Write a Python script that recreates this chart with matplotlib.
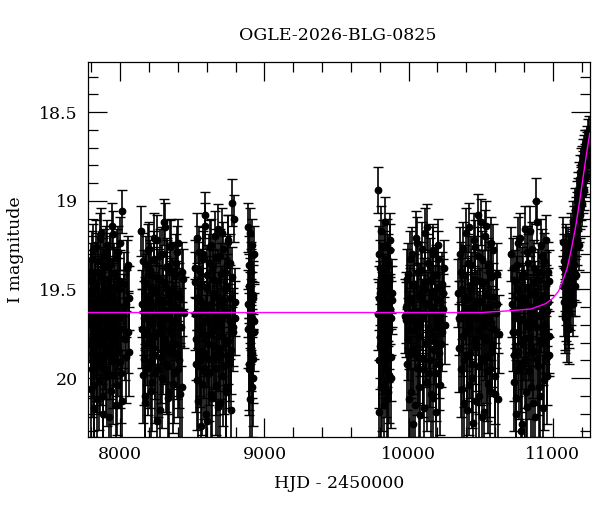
import numpy as np
import matplotlib
matplotlib.use('Agg')
import matplotlib.pyplot as plt
from matplotlib.ticker import MultipleLocator, FormatStrFormatter

### DATA
# OGLE photometry, one block per observing season (HJD - 2450000, I mag, error)

s1_t = [7791, 7796, 7800, 7803, 7808, 7812, 7817, 7821, 7825, 7830, 7834, 7839, 7843, 7848, 7852, 7857, 7861, 7866,
        7870, 7875, 7879, 7884, 7888, 7893, 7897, 7902, 7906, 7911, 7915, 7920, 7925, 7929, 7934, 7938, 7943, 7948,
        7952, 7957, 7962, 7966, 7971, 7976, 7981, 7986, 7992, 7998, 8004, 8011, 8019, 8028, 8037, 8046, 8055, 8060,
        7789, 7794, 7798, 7802, 7806, 7810, 7815, 7819, 7823, 7828, 7832, 7837, 7841, 7846, 7850, 7855, 7859, 7864,
        7868, 7873, 7877, 7882, 7886, 7891, 7895, 7900, 7904, 7909, 7913, 7918, 7922, 7927, 7931, 7936, 7940, 7945,
        7950, 7954, 7959, 7964, 7969, 7974, 7979, 7984, 7990, 7995, 8001, 8008, 8015, 8024, 8033, 8042, 8050, 8057]
s1_m = [19.52, 19.81, 19.40, 19.95, 19.66, 19.28, 20.04, 19.71, 19.47, 19.88, 19.59, 20.12, 19.34, 19.75, 19.62, 19.21, 19.93, 19.55,
        19.79, 19.43, 20.20, 19.68, 19.31, 19.86, 19.57, 19.74, 19.25, 19.99, 19.64, 19.48, 19.83, 19.36, 20.07, 19.70, 19.53, 19.19,
        19.90, 19.61, 19.77, 19.42, 20.15, 19.58, 19.29, 19.84, 19.66, 19.45, 19.97, 19.06, 19.72, 19.60, 19.88, 19.38, 19.74, 19.55,
        19.70, 19.45, 20.06, 19.58, 19.33, 19.86, 19.62, 20.17, 19.49, 19.77, 19.26, 19.92, 19.65, 19.40, 20.01, 19.56, 19.73, 19.18,
        19.89, 19.60, 19.37, 20.10, 19.67, 19.51, 19.82, 19.29, 19.95, 19.63, 19.44, 20.22, 19.75, 19.34, 19.87, 19.55, 19.69, 19.14,
        19.98, 19.59, 19.41, 19.80, 19.66, 20.04, 19.32, 19.73, 19.50, 19.91, 19.24, 19.64, 20.13, 19.47, 19.78, 19.58, 19.36, 19.85]
s1_e = [0.18, 0.24, 0.16, 0.27, 0.20, 0.15, 0.29, 0.22, 0.17, 0.25, 0.19, 0.30, 0.16, 0.23, 0.20, 0.14, 0.27, 0.18,
        0.24, 0.17, 0.31, 0.21, 0.15, 0.26, 0.19, 0.22, 0.14, 0.28, 0.20, 0.17, 0.25, 0.16, 0.29, 0.22, 0.18, 0.13,
        0.27, 0.20, 0.23, 0.16, 0.30, 0.19, 0.15, 0.26, 0.21, 0.17, 0.28, 0.12, 0.22, 0.19, 0.26, 0.16, 0.23, 0.18,
        0.21, 0.17, 0.28, 0.19, 0.16, 0.25, 0.20, 0.30, 0.18, 0.23, 0.15, 0.27, 0.21, 0.17, 0.28, 0.19, 0.22, 0.14,
        0.26, 0.20, 0.16, 0.29, 0.21, 0.18, 0.24, 0.15, 0.27, 0.20, 0.17, 0.31, 0.22, 0.16, 0.25, 0.19, 0.21, 0.13,
        0.28, 0.20, 0.17, 0.24, 0.21, 0.28, 0.16, 0.22, 0.18, 0.26, 0.15, 0.20, 0.29, 0.18, 0.23, 0.19, 0.16, 0.25]

s2_t = [8146, 8152, 8158, 8163, 8169, 8174, 8180, 8186, 8191, 8197, 8203, 8208, 8214, 8220, 8225, 8231, 8237,
        8242, 8248, 8254, 8259, 8265, 8271, 8276, 8282, 8288, 8293, 8299, 8305, 8310, 8316, 8322, 8327, 8333,
        8339, 8344, 8350, 8356, 8361, 8367, 8373, 8378, 8384, 8390, 8396, 8402, 8409, 8417, 8426, 8437,
        8149, 8155, 8161, 8166, 8172, 8177, 8183, 8189, 8194, 8200, 8206, 8211, 8217, 8223, 8228, 8234, 8240,
        8245, 8251, 8257, 8262, 8268, 8274, 8279, 8285, 8291, 8296, 8302, 8308, 8313, 8319, 8325, 8330, 8336,
        8342, 8347, 8353, 8359, 8364, 8370, 8376, 8381, 8387, 8393, 8399, 8405, 8413, 8421, 8431, 8441]
s2_m = [19.17, 19.72, 19.98, 19.45, 19.63, 20.10, 19.36, 19.80, 19.55, 19.27, 19.91, 19.68, 19.41, 20.02, 19.59, 19.76, 19.33,
        19.87, 19.50, 19.22, 19.95, 19.65, 19.44, 20.18, 19.70, 19.30, 19.84, 19.57, 19.12, 19.78, 19.49, 19.93, 19.38, 19.66,
        20.08, 19.53, 19.25, 19.82, 19.61, 19.40, 19.97, 19.69, 19.35, 19.86, 19.52, 19.24, 19.90, 19.62, 20.05, 19.44,
        19.58, 19.34, 19.89, 19.66, 20.14, 19.47, 19.75, 19.28, 19.94, 19.61, 19.39, 20.07, 19.70, 19.52, 19.83, 19.21, 19.97,
        19.64, 19.43, 20.24, 19.74, 19.56, 19.31, 19.88, 19.68, 20.00, 19.46, 19.79, 19.15, 19.62, 19.92, 19.37, 20.11, 19.57,
        19.73, 19.26, 19.85, 19.50, 20.03, 19.67, 19.42, 19.81, 19.60, 19.29, 19.95, 19.54, 20.09, 19.71, 19.40, 19.63]
s2_e = [0.14, 0.22, 0.27, 0.17, 0.20, 0.29, 0.16, 0.24, 0.18, 0.15, 0.26, 0.21, 0.17, 0.28, 0.19, 0.23, 0.16,
        0.25, 0.18, 0.14, 0.27, 0.20, 0.17, 0.31, 0.22, 0.15, 0.25, 0.19, 0.13, 0.24, 0.18, 0.27, 0.16, 0.21,
        0.29, 0.19, 0.15, 0.24, 0.20, 0.17, 0.28, 0.21, 0.16, 0.26, 0.18, 0.14, 0.27, 0.20, 0.29, 0.17,
        0.19, 0.16, 0.26, 0.21, 0.30, 0.17, 0.23, 0.15, 0.27, 0.20, 0.17, 0.29, 0.22, 0.18, 0.25, 0.14, 0.28,
        0.20, 0.17, 0.32, 0.22, 0.19, 0.15, 0.26, 0.21, 0.28, 0.17, 0.24, 0.14, 0.20, 0.27, 0.16, 0.30, 0.19,
        0.22, 0.15, 0.25, 0.18, 0.28, 0.21, 0.17, 0.24, 0.20, 0.15, 0.27, 0.19, 0.29, 0.22, 0.17, 0.20]

s3_t = [8516, 8521, 8527, 8532, 8538, 8543, 8549, 8554, 8560, 8565, 8571, 8576, 8582, 8587, 8593, 8598, 8604,
        8609, 8615, 8620, 8626, 8631, 8637, 8642, 8648, 8653, 8659, 8664, 8670, 8675, 8681, 8686, 8692, 8697,
        8703, 8708, 8714, 8719, 8725, 8730, 8736, 8741, 8747, 8752, 8758, 8763, 8769, 8776, 8784, 8795,
        8518, 8524, 8529, 8535, 8540, 8546, 8551, 8557, 8562, 8568, 8573, 8579, 8584, 8590, 8595, 8601, 8606,
        8612, 8617, 8623, 8628, 8634, 8639, 8645, 8650, 8656, 8661, 8667, 8672, 8678, 8683, 8689, 8694, 8700,
        8705, 8711, 8716, 8722, 8727, 8733, 8738, 8744, 8749, 8755, 8760, 8766, 8772, 8780, 8789, 8798]
s3_m = [19.64, 19.38, 19.92, 19.55, 20.13, 19.71, 19.29, 19.85, 19.47, 20.03, 19.60, 19.33, 19.96, 19.08, 19.76, 20.24, 19.42,
        19.67, 19.89, 19.26, 19.58, 20.09, 19.73, 19.37, 19.82, 19.52, 19.20, 19.94, 19.65, 19.45, 20.16, 19.70, 19.31, 19.87,
        19.56, 19.18, 19.99, 19.62, 19.40, 19.80, 20.06, 19.48, 19.23, 19.91, 19.68, 19.35, 19.84, 19.01, 19.74, 19.57,
        19.46, 19.78, 19.21, 20.01, 19.63, 19.39, 19.90, 20.27, 19.57, 19.72, 19.30, 19.86, 19.14, 19.68, 20.20, 19.49, 19.81,
        19.35, 19.97, 19.60, 19.25, 20.11, 19.74, 19.44, 19.88, 19.54, 20.04, 19.32, 19.69, 19.16, 19.83, 19.59, 20.14, 19.41,
        19.76, 19.27, 19.93, 19.64, 19.50, 20.08, 19.36, 19.79, 19.22, 19.87, 19.55, 20.18, 19.43, 19.71, 19.10, 19.66]
s3_e = [0.20, 0.16, 0.27, 0.18, 0.30, 0.22, 0.15, 0.25, 0.17, 0.29, 0.19, 0.16, 0.27, 0.13, 0.23, 0.31, 0.17,
        0.21, 0.26, 0.15, 0.19, 0.29, 0.22, 0.16, 0.24, 0.18, 0.14, 0.27, 0.20, 0.17, 0.30, 0.21, 0.15, 0.25,
        0.19, 0.14, 0.28, 0.20, 0.16, 0.24, 0.29, 0.18, 0.15, 0.26, 0.21, 0.16, 0.25, 0.13, 0.22, 0.19,
        0.17, 0.23, 0.14, 0.28, 0.20, 0.16, 0.26, 0.32, 0.19, 0.22, 0.15, 0.25, 0.13, 0.21, 0.30, 0.18, 0.24,
        0.16, 0.27, 0.20, 0.15, 0.29, 0.22, 0.17, 0.25, 0.19, 0.28, 0.16, 0.21, 0.14, 0.24, 0.19, 0.30, 0.17,
        0.23, 0.15, 0.27, 0.20, 0.18, 0.29, 0.16, 0.24, 0.14, 0.26, 0.19, 0.31, 0.17, 0.22, 0.13, 0.21]

s4_t = [8884, 8888, 8891, 8895, 8898, 8902, 8905, 8909, 8912, 8916, 8919, 8923, 8926, 8930,
        8886, 8890, 8893, 8897, 8900, 8904, 8907, 8911, 8914, 8918, 8921, 8925]
s4_m = [19.15, 19.72, 19.48, 19.95, 19.60, 19.18, 19.83, 19.40, 20.05, 19.66, 19.53, 19.89, 19.30, 19.74,
        19.58, 19.92, 19.36, 19.70, 20.12, 19.45, 19.64, 19.25, 19.86, 19.55, 20.00, 19.68]
s4_e = [0.14, 0.22, 0.18, 0.26, 0.20, 0.14, 0.24, 0.17, 0.28, 0.21, 0.19, 0.25, 0.16, 0.22,
        0.19, 0.26, 0.16, 0.22, 0.29, 0.18, 0.20, 0.15, 0.25, 0.19, 0.27, 0.21]

s5_t = [9788, 9792, 9795, 9799, 9803, 9806, 9810, 9814, 9817, 9821, 9825, 9828, 9832,
        9836, 9839, 9843, 9847, 9850, 9854, 9858, 9861, 9865, 9869, 9873, 9878, 9884,
        9790, 9793, 9797, 9801, 9804, 9808, 9812, 9815, 9819, 9823, 9826, 9830, 9834,
        9837, 9841, 9845, 9848, 9852, 9856, 9859, 9863, 9867, 9871, 9875, 9880, 9886]
s5_m = [18.94, 20.19, 19.55, 19.82, 19.38, 19.70, 20.05, 19.47, 19.63, 19.26, 19.91, 19.58, 19.74,
        19.12, 19.86, 19.50, 20.12, 19.67, 19.35, 19.79, 19.44, 19.98, 19.61, 19.22, 19.88, 19.56,
        19.64, 19.30, 19.90, 19.52, 19.77, 19.17, 20.02, 19.60, 19.41, 19.84, 20.15, 19.48, 19.69,
        19.33, 19.95, 19.57, 19.25, 19.81, 20.08, 19.62, 19.45, 19.73, 19.28, 20.00, 19.66, 19.52]
s5_e = [0.13, 0.29, 0.18, 0.24, 0.16, 0.21, 0.28, 0.17, 0.20, 0.15, 0.26, 0.19, 0.22,
        0.14, 0.25, 0.18, 0.30, 0.21, 0.16, 0.23, 0.17, 0.27, 0.20, 0.15, 0.25, 0.19,
        0.20, 0.16, 0.27, 0.18, 0.23, 0.14, 0.28, 0.20, 0.17, 0.25, 0.30, 0.18, 0.21,
        0.16, 0.27, 0.19, 0.15, 0.24, 0.29, 0.20, 0.17, 0.22, 0.15, 0.28, 0.21, 0.19]

s6_t = [9976, 9981, 9990, 9998, 10004, 10010, 10016, 10022, 10028, 10034, 10040, 10046, 10052, 10058, 10064,
        10070, 10076, 10082, 10088, 10094, 10100, 10106, 10112, 10118, 10124, 10130, 10136, 10142, 10148, 10154,
        10160, 10166, 10172, 10178, 10184, 10190, 10196, 10202, 10208, 10214, 10221, 10229, 10237, 10246,
        9979, 9986, 9994, 10001, 10007, 10013, 10019, 10025, 10031, 10037, 10043, 10049, 10055, 10061, 10067,
        10073, 10079, 10085, 10091, 10097, 10103, 10109, 10115, 10121, 10127, 10133, 10139, 10145, 10151, 10157,
        10163, 10169, 10175, 10181, 10187, 10193, 10199, 10205, 10211, 10218, 10225, 10233, 10241, 10250]
s6_m = [19.65, 19.67, 19.92, 19.41, 19.73, 19.55, 20.08, 19.30, 19.84, 19.62, 19.47, 20.15, 19.69, 19.24, 19.88,
        19.53, 19.76, 20.21, 19.39, 19.64, 19.95, 19.50, 19.18, 19.81, 19.58, 20.02, 19.35, 19.72, 19.90, 19.45,
        19.60, 20.11, 19.28, 19.79, 19.54, 19.97, 19.68, 19.33, 19.86, 19.49, 20.04, 19.74, 19.52, 19.38,
        19.60, 19.44, 19.78, 20.12, 19.57, 19.33, 19.86, 19.67, 20.26, 19.48, 19.73, 19.21, 19.94, 19.62, 19.40,
        20.05, 19.70, 19.54, 19.27, 19.89, 19.65, 20.17, 19.46, 19.80, 19.15, 19.59, 19.97, 19.37, 19.75, 20.09,
        19.52, 19.30, 19.84, 19.63, 20.19, 19.42, 19.71, 19.25, 19.92, 19.56, 19.81, 19.47, 19.61, 19.70]
s6_e = [0.21, 0.21, 0.26, 0.17, 0.22, 0.19, 0.28, 0.15, 0.25, 0.20, 0.17, 0.30, 0.21, 0.15, 0.26,
        0.18, 0.23, 0.31, 0.16, 0.20, 0.27, 0.18, 0.14, 0.24, 0.19, 0.28, 0.16, 0.22, 0.26, 0.17,
        0.20, 0.29, 0.15, 0.24, 0.18, 0.27, 0.21, 0.16, 0.25, 0.18, 0.28, 0.22, 0.19, 0.16,
        0.20, 0.17, 0.23, 0.29, 0.19, 0.16, 0.25, 0.21, 0.32, 0.18, 0.22, 0.15, 0.27, 0.20, 0.17,
        0.28, 0.22, 0.19, 0.15, 0.26, 0.21, 0.30, 0.17, 0.24, 0.13, 0.19, 0.27, 0.16, 0.23, 0.29,
        0.18, 0.15, 0.25, 0.20, 0.30, 0.17, 0.22, 0.15, 0.26, 0.19, 0.24, 0.18, 0.20, 0.22]

s7_t = [10346, 10352, 10360, 10367, 10374, 10380, 10386, 10392, 10398, 10404, 10410, 10416, 10422, 10428, 10434,
        10440, 10446, 10452, 10458, 10464, 10470, 10476, 10482, 10488, 10494, 10500, 10506, 10512, 10518, 10524,
        10530, 10536, 10542, 10548, 10554, 10560, 10566, 10572, 10578, 10585, 10592, 10600, 10610, 10622,
        10349, 10356, 10363, 10370, 10377, 10383, 10389, 10395, 10401, 10407, 10413, 10419, 10425, 10431, 10437,
        10443, 10449, 10455, 10461, 10467, 10473, 10479, 10485, 10491, 10497, 10503, 10509, 10515, 10521, 10527,
        10533, 10539, 10545, 10551, 10557, 10563, 10569, 10575, 10581, 10588, 10596, 10605, 10615, 10626]
s7_m = [19.52, 19.83, 19.40, 20.06, 19.63, 19.27, 19.90, 19.56, 19.74, 20.18, 19.35, 19.68, 19.15, 19.86, 19.49,
        20.00, 19.60, 19.22, 19.79, 19.44, 20.13, 19.66, 19.31, 19.93, 19.57, 19.12, 19.76, 20.22, 19.46, 19.70,
        19.20, 19.88, 19.53, 20.03, 19.37, 19.65, 19.95, 19.43, 19.81, 19.28, 19.72, 20.09, 19.58, 20.12,
        19.66, 19.30, 19.95, 19.50, 19.76, 20.14, 19.42, 19.61, 19.18, 19.87, 19.55, 20.04, 19.71, 19.36, 19.92,
        19.47, 20.25, 19.64, 19.26, 19.82, 19.58, 19.08, 19.73, 20.10, 19.45, 19.89, 19.33, 19.67, 20.19, 19.52,
        19.78, 19.14, 19.96, 19.60, 19.40, 20.07, 19.69, 19.24, 19.85, 19.54, 19.99, 19.63, 19.41, 19.75]
s7_e = [0.19, 0.25, 0.17, 0.28, 0.20, 0.15, 0.26, 0.19, 0.22, 0.30, 0.16, 0.21, 0.14, 0.25, 0.18,
        0.28, 0.20, 0.15, 0.24, 0.17, 0.30, 0.21, 0.16, 0.27, 0.19, 0.13, 0.23, 0.31, 0.18, 0.22,
        0.15, 0.26, 0.19, 0.28, 0.16, 0.21, 0.27, 0.17, 0.24, 0.15, 0.22, 0.29, 0.19, 0.26,
        0.21, 0.15, 0.27, 0.18, 0.23, 0.29, 0.17, 0.20, 0.14, 0.26, 0.19, 0.28, 0.22, 0.16, 0.27,
        0.18, 0.32, 0.20, 0.15, 0.25, 0.19, 0.12, 0.22, 0.29, 0.17, 0.26, 0.16, 0.21, 0.30, 0.18,
        0.23, 0.14, 0.28, 0.20, 0.17, 0.29, 0.21, 0.15, 0.25, 0.19, 0.27, 0.20, 0.17, 0.22]

s8_t = [10713, 10722, 10729, 10735, 10741, 10747, 10753, 10759, 10765, 10771, 10777, 10783, 10789, 10795, 10801,
        10807, 10813, 10819, 10825, 10831, 10837, 10843, 10849, 10855, 10861, 10867, 10873, 10879, 10885, 10891,
        10897, 10903, 10909, 10915, 10921, 10927, 10933, 10939, 10945, 10951, 10957, 10963, 10969, 10975,
        10716, 10725, 10732, 10738, 10744, 10750, 10756, 10762, 10768, 10774, 10780, 10786, 10792, 10798, 10804,
        10810, 10816, 10822, 10828, 10834, 10840, 10846, 10852, 10858, 10864, 10870, 10876, 10882, 10888, 10894,
        10900, 10906, 10912, 10918, 10924, 10930, 10936, 10942, 10948, 10954, 10960, 10966, 10971, 10973]
s8_m = [19.30, 19.74, 20.02, 19.45, 19.63, 20.20, 19.36, 19.85, 19.55, 19.21, 19.92, 19.67, 20.26, 19.41, 19.78,
        19.58, 20.08, 19.29, 19.71, 19.49, 19.96, 19.17, 19.82, 19.61, 20.14, 19.38, 19.69, 19.52, 19.00, 19.89,
        19.44, 20.05, 19.65, 19.25, 19.80, 19.56, 20.17, 19.34, 19.75, 19.47, 19.99, 19.62, 19.40, 19.87,
        19.58, 19.38, 19.87, 19.66, 20.11, 19.49, 19.74, 19.24, 19.95, 19.60, 20.30, 19.43, 19.81, 19.55, 19.16,
        19.90, 19.68, 20.16, 19.35, 19.77, 19.52, 20.05, 19.63, 19.27, 19.85, 19.46, 20.22, 19.71, 19.12, 19.59,
        19.93, 19.40, 20.10, 19.64, 19.31, 19.79, 19.53, 20.01, 19.70, 19.22, 19.88, 19.57, 19.45, 19.76]
s8_e = [0.15, 0.22, 0.28, 0.17, 0.20, 0.30, 0.16, 0.25, 0.19, 0.14, 0.27, 0.21, 0.32, 0.17, 0.23,
        0.19, 0.29, 0.15, 0.22, 0.18, 0.27, 0.14, 0.24, 0.20, 0.30, 0.16, 0.21, 0.18, 0.13, 0.26,
        0.17, 0.28, 0.20, 0.15, 0.24, 0.19, 0.30, 0.16, 0.22, 0.18, 0.27, 0.20, 0.17, 0.10,
        0.19, 0.17, 0.26, 0.21, 0.30, 0.18, 0.23, 0.15, 0.28, 0.20, 0.33, 0.17, 0.25, 0.19, 0.13,
        0.27, 0.21, 0.31, 0.16, 0.24, 0.18, 0.29, 0.20, 0.15, 0.26, 0.17, 0.32, 0.22, 0.12, 0.19,
        0.28, 0.16, 0.30, 0.21, 0.15, 0.25, 0.18, 0.28, 0.22, 0.14, 0.27, 0.19, 0.17, 0.23]

s9_t = [11072, 11076, 11080, 11085, 11089, 11093, 11097, 11101, 11105, 11110, 11114, 11118, 11122, 11127,
        11131, 11135, 11140, 11144, 11148, 11153, 11157, 11161, 11166, 11170, 11175, 11179, 11184, 11188,
        11193, 11197, 11202, 11207, 11211, 11216, 11221, 11226, 11232, 11238, 11244, 11250,
        11074, 11078, 11082, 11087, 11091, 11095, 11099, 11103, 11108, 11112, 11116, 11120, 11125, 11129,
        11133, 11138, 11142, 11146, 11150, 11155, 11159, 11164, 11168, 11172, 11177, 11181, 11186, 11190,
        11195, 11199, 11204, 11209, 11213, 11218, 11223, 11229, 11235, 11241, 11247, 11253]
s9_m = [19.23, 19.57, 19.38, 19.64, 19.30, 19.52, 19.70, 19.41, 19.62, 19.72, 19.35, 19.55, 19.45, 19.20,
        19.48, 19.32, 19.12, 19.40, 19.25, 19.05, 19.48, 19.18, 19.00, 19.22, 18.95, 19.10, 18.88, 19.08,
        18.92, 18.80, 19.02, 18.85, 18.74, 18.94, 18.78, 18.68, 18.86, 18.70, 18.62, 18.76,
        19.48, 19.34, 19.66, 19.45, 19.27, 19.60, 19.38, 19.54, 19.29, 19.47, 19.63, 19.33, 19.40, 19.52,
        19.22, 19.30, 19.58, 19.15, 19.36, 19.20, 19.10, 19.42, 19.06, 18.98, 19.16, 19.25, 19.04, 18.84,
        19.00, 18.90, 18.78, 18.96, 18.82, 18.72, 18.88, 18.74, 18.66, 18.80, 18.68, 18.60]
s9_e = [0.14, 0.19, 0.16, 0.20, 0.15, 0.18, 0.21, 0.16, 0.19, 0.20, 0.15, 0.18, 0.17, 0.13,
        0.17, 0.15, 0.12, 0.16, 0.14, 0.12, 0.17, 0.13, 0.11, 0.14, 0.11, 0.13, 0.10, 0.13,
        0.11, 0.10, 0.12, 0.10, 0.09, 0.11, 0.10, 0.08, 0.10, 0.09, 0.08, 0.09,
        0.17, 0.15, 0.20, 0.17, 0.14, 0.19, 0.16, 0.18, 0.14, 0.17, 0.20, 0.15, 0.16, 0.18,
        0.13, 0.14, 0.18, 0.12, 0.14, 0.13, 0.12, 0.15, 0.11, 0.11, 0.12, 0.14, 0.12, 0.10,
        0.11, 0.10, 0.09, 0.11, 0.10, 0.09, 0.10, 0.09, 0.08, 0.09, 0.08, 0.08]

# microlensing model
model_t = [7773, 10500, 10700, 10850, 10950, 11000, 11040, 11070, 11100, 11130, 11160, 11187, 11210, 11230, 11245, 11257]
model_m = [19.63, 19.63, 19.62, 19.61, 19.58, 19.55, 19.51, 19.45, 19.38, 19.27, 19.14, 19.00, 18.87, 18.76, 18.68, 18.62]

event_name = 'OGLE-2026-BLG-0825'

hjd = s1_t + s2_t + s3_t + s4_t + s5_t + s6_t + s7_t + s8_t + s9_t
mag = s1_m + s2_m + s3_m + s4_m + s5_m + s6_m + s7_m + s8_m + s9_m
err = s1_e + s2_e + s3_e + s4_e + s5_e + s6_e + s7_e + s8_e + s9_e

### PLOT
plt.rcParams['font.family'] = 'DejaVu Serif'
fig = plt.figure(figsize=(6, 5.12), dpi=100)
ax = fig.add_axes([0.146, 0.147, 0.837, 0.7325])

ax.errorbar(hjd, mag, yerr=err, fmt='o', color='k', ms=4.6, ecolor='k', elinewidth=1.2,
            capsize=3.5, capthick=1.0, zorder=2)
ax.plot(model_t, model_m, color='#ff00ff', linewidth=1.0, zorder=3)

ax.set_xlim(7773, 11257)
ax.set_ylim(20.33, 18.216)

ax.xaxis.set_major_locator(MultipleLocator(1000))
ax.xaxis.set_minor_locator(MultipleLocator(200))
ax.yaxis.set_major_locator(MultipleLocator(0.5))
ax.yaxis.set_minor_locator(MultipleLocator(0.1))
ax.yaxis.set_major_formatter(FormatStrFormatter('%g'))
ax.tick_params(which='both', direction='in', top=True, right=True, labelsize=12.5, width=0.9)
ax.tick_params(which='major', length=14, pad=7)
ax.tick_params(which='minor', length=7)
for sp in ax.spines.values():
    sp.set_linewidth(0.9)

ax.set_xlabel('HJD - 2450000', fontsize=12.5, labelpad=8)
ax.set_ylabel('I magnitude', fontsize=12.5, labelpad=11)
fig.text(0.5625, 1 - 35 / 512, event_name, ha='center', va='center', fontsize=12.5)

fig.savefig('out.png', dpi=100)
